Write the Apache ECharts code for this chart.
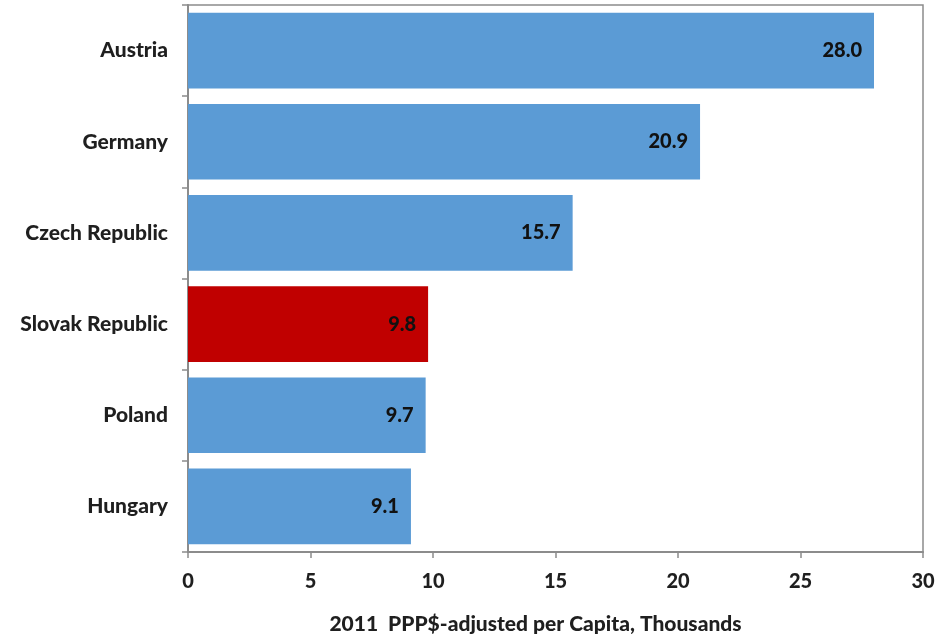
<!DOCTYPE html>
<html>
<head>
<meta charset="utf-8">
<script src="https://cdn.jsdelivr.net/npm/echarts@6/dist/echarts.min.js"></script>
<style>html,body{margin:0;padding:0;background:#fff;}#c{width:950px;height:640px;}</style>
</head>
<body>
<div id="c"></div>
<script>
const categories = ["Austria", "Germany", "Czech Republic", "Slovak Republic", "Poland", "Hungary"];
const values = [28.0, 20.9, 15.7, 9.8, 9.7, 9.1];
const highlight = "Slovak Republic";
const xTicks = [0, 5, 10, 15, 20, 25, 30];
const axisTitle = "2011  PPP$-adjusted per Capita, Thousands";

const FONT = "Lato";
const chart = echarts.init(document.getElementById('c'));
chart.setOption({
  animation: false,
  backgroundColor: '#fff',
  grid: { left: 188, right: 27, top: 5, bottom: 87, show: true, borderColor: '#8c8c8c', borderWidth: 1.5, backgroundColor: 'transparent' },
  xAxis: {
    type: 'value', min: xTicks[0], max: xTicks[xTicks.length - 1], interval: 5,
    splitLine: { show: false },
    axisLine: { show: true, lineStyle: { color: '#8c8c8c', width: 2 } },
    axisTick: { show: true, length: 6, lineStyle: { color: '#8c8c8c', width: 1.5 } },
    axisLabel: { margin: 20, color: '#1f1f1f', fontFamily: FONT, fontWeight: 900, fontSize: 20 },
    name: axisTitle, nameLocation: 'middle', nameGap: 62,
    nameTextStyle: { color: '#1f1f1f', fontFamily: FONT, fontWeight: 900, fontSize: 21, padding: [0, 40, 0, 0] }
  },
  yAxis: {
    type: 'category', data: categories, inverse: true,
    axisLine: { show: true, lineStyle: { color: '#8c8c8c', width: 2 } },
    axisTick: { show: true, length: 6, lineStyle: { color: '#8c8c8c', width: 1.5 } },
    axisLabel: { margin: 20, color: '#1f1f1f', fontFamily: FONT, fontWeight: 900, fontSize: 21 }
  },
  series: [{
    type: 'bar',
    data: categories.map((c, i) => ({ value: values[i], itemStyle: { color: c === highlight ? '#C00000' : '#5B9BD5' } })),
    barCategoryGap: '17%',
    label: { show: true, position: 'insideRight', distance: 12, color: '#111', fontFamily: FONT, fontWeight: 900, fontSize: 20, formatter: p => p.value.toFixed(1) }
  }]
});
</script>
</body>
</html>
